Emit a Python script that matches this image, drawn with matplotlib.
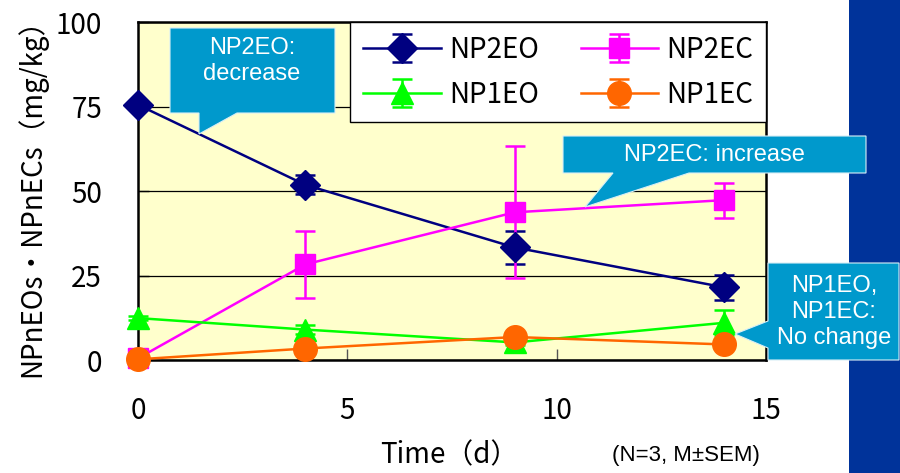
import matplotlib
matplotlib.use("Agg")
import matplotlib.pyplot as plt
from matplotlib.patches import Polygon, Rectangle
import numpy as np

plt.rcParams['font.family'] = ['Noto Sans CJK JP', 'DejaVu Sans']

days = [0, 4, 9, 14]
np2eo = [75.5, 51.8, 33.3, 21.5]
np2eo_err = [0.5, 2.8, 5.0, 3.7]
np2ec = [0.5, 28.3, 43.7, 47.3]
np2ec_err = [0.3, 10.0, 19.5, 5.2]
np1eo = [12.4, 9.0, 5.2, 11.0]
np1eo_err = [0.5, 1.3, 0.8, 3.7]
np1ec = [0.2, 3.4, 6.8, 4.6]
np1ec_err = [0.2, 0.4, 1.0, 0.5]

series_names = ['NP2EO', 'NP2EC', 'NP1EO', 'NP1EC']
yticks = [0, 25, 50, 75, 100]
xticks = [0, 5, 10, 15]

W, H = 900, 473
fig = plt.figure(figsize=(9, 4.73), dpi=100)
fig.patch.set_facecolor('white')

def fx(px):
    return px / W

def fy(py):
    return 1 - py / H

# blue band on the right
fig.patches.append(Rectangle((fx(849), 0), fx(900) - fx(849), 1, transform=fig.transFigure,
                             facecolor='#00339a', edgecolor='none', zorder=0))

ax = fig.add_axes([fx(138), fy(360), fx(766) - fx(138), fy(22) - fy(360)])
ax.set_facecolor('#ffffcc')
ax.set_xlim(0, 15)
ax.set_ylim(0, 100)
ax.set_xticks(xticks)
ax.set_yticks(yticks)
ax.set_xticklabels([str(t) for t in xticks], fontsize=20)
ax.set_yticklabels([str(t) for t in yticks], fontsize=20)
ax.tick_params(axis='x', direction='in', length=8, width=1, color='#555555', pad=26)
ax.tick_params(axis='y', direction='in', length=8, width=1, pad=26)
ax.grid(axis='y', color='black', linewidth=0.9)
ax.set_axisbelow(True)
for s in ax.spines.values():
    s.set_linewidth(1.8)
    s.set_color('black')

specs = [
    (np2eo, np2eo_err, '#000080', 'D', 15),
    (np2ec, np2ec_err, '#ff00ff', 's', 15),
    (np1eo, np1eo_err, '#00ff00', '^', 16),
    (np1ec, np1ec_err, '#ff6600', 'o', 17),
]
handles = []
for (vals, err, col, mk, ms), name in zip(specs, series_names):
    h = ax.errorbar(days, vals, yerr=err, color=col, ecolor=col, marker=mk, markersize=ms,
                    linewidth=1.8, elinewidth=1.8, capsize=7, capthick=1.8,
                    label=name, clip_on=False, zorder=3)
    handles.append(h)

# legend in row order: NP2EO NP2EC / NP1EO NP1EC
order = [0, 2, 1, 3]
leg = ax.legend(handles=[handles[i] for i in order], labels=[series_names[i] for i in order],
                ncol=2, loc='upper right', bbox_to_anchor=(1, 1),
                borderaxespad=0, fancybox=False, framealpha=1, edgecolor='black',
                fontsize=20, handlelength=2.8, handletextpad=0.3, columnspacing=1.5,
                labelspacing=0.55, borderpad=0.45)
leg.get_frame().set_linewidth(1.0)
leg.set_zorder(5)

ax.set_ylabel('NPnEOs・NPnECs（mg/kg）', fontsize=20, labelpad=6)
fig.text(fx(449), fy(455), 'Time（d）', fontsize=20, ha='center', va='center')
fig.text(fx(686), fy(455), '(N=3, M±SEM)', fontsize=16, ha='center', va='center',
         family=['Liberation Sans', 'DejaVu Sans'])

callout_col = '#0099cc'

def callout(pts, text, tx, ty, size=17):
    poly = Polygon([(fx(x), fy(y)) for x, y in pts], closed=True, transform=fig.transFigure,
                   facecolor=callout_col, edgecolor='#d8eef6', linewidth=0.8, zorder=10)
    fig.patches.append(poly)
    fig.text(fx(tx), fy(ty), text, color='white', fontsize=size, ha='center', va='center',
             family=['Liberation Sans', 'DejaVu Sans'], linespacing=1.25, zorder=11)

callout([(170, 28), (335, 28), (335, 113), (237, 113), (199, 134), (199, 113), (170, 113)],
        'NP2EO:\ndecrease', 252, 61)
callout([(563, 136), (866, 136), (866, 173), (689, 173), (585, 207), (613, 173), (563, 173)],
        'NP2EC: increase', 714, 155)
callout([(768, 263), (899, 263), (899, 360), (768, 360), (768, 348), (735, 334), (768, 321)],
        'NP1EO,\nNP1EC:\nNo change', 834, 312)

fig.savefig('out.png', dpi=100)
